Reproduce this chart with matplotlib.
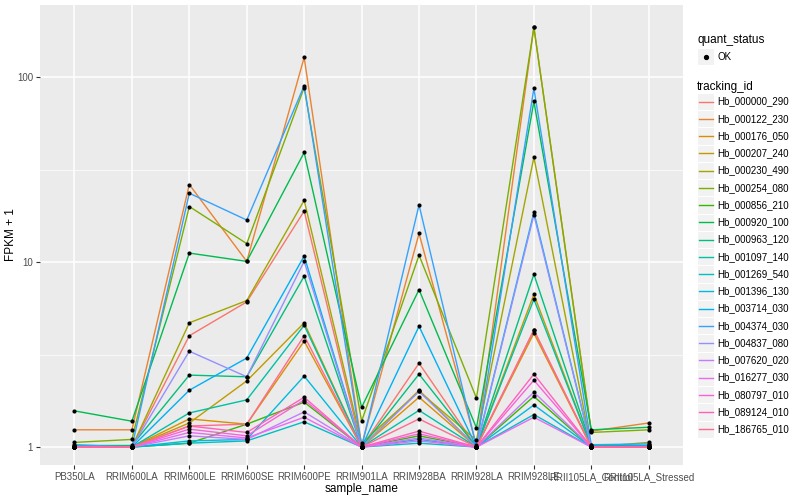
import numpy as np
import matplotlib
matplotlib.use("Agg")
import matplotlib.pyplot as plt
from matplotlib.patches import Rectangle
from matplotlib.lines import Line2D

plt.rcParams['font.family'] = ['Liberation Sans', 'DejaVu Sans']

samples = ["PB350LA", "RRIM600LA", "RRIM600LE", "RRIM600SE", "RRIM600PE", "RRIM901LA",
           "RRIM928BA", "RRIM928LA", "RRIM928LE", "RRII105LA_Control", "RRII105LA_Stressed"]

tracking_ids = ["Hb_000000_290", "Hb_000122_230", "Hb_000176_050", "Hb_000207_240",
                "Hb_000230_490", "Hb_000254_080", "Hb_000856_210", "Hb_000920_100",
                "Hb_000963_120", "Hb_001097_140", "Hb_001269_540", "Hb_001396_130",
                "Hb_003714_030", "Hb_004374_030", "Hb_004837_080", "Hb_007620_020",
                "Hb_016277_030", "Hb_080797_010", "Hb_089124_010", "Hb_186765_010"]

# ggplot hue palette for 20 levels
colors = ["#F8766D", "#EA8331", "#D89000", "#C09B00", "#A3A500", "#7CAE00", "#39B600",
          "#00BB4E", "#00BF7D", "#00C1A3", "#00BFC4", "#00BAE0", "#00B0F6", "#35A2FF",
          "#9590FF", "#C77CFF", "#E76BF3", "#FA62DB", "#FF62BC", "#FF6C91"]

# FPKM + 1 per tracking_id, in sample order
hb_000000_290 = [1.0, 1.0, 4.0, 6.1, 18.9, 1.0, 2.84, 1.0, 4.3, 1.0, 1.0]
hb_000122_230 = [1.24, 1.24, 26.3, 10.1, 128, 1.02, 14.3, 1.02, 187, 1.22, 1.35]
hb_000176_050 = [1.0, 1.0, 1.42, 1.33, 3.74, 1.0, 1.86, 1.0, 4.13, 1.0, 1.0]
hb_000207_240 = [1.0, 1.0, 1.35, 2.28, 4.7, 1.0, 2.03, 1.0, 6.7, 1.0, 1.0]
hb_000230_490 = [1.0, 1.0, 4.7, 6.2, 21.6, 1.05, 2.0, 1.09, 36.9, 1.0, 1.06]
hb_000254_080 = [1.06, 1.1, 20.0, 12.6, 88, 1.38, 10.9, 1.84, 186, 1.2, 1.24]
hb_000856_210 = [1.0, 1.0, 1.05, 1.33, 1.75, 1.0, 1.15, 1.0, 1.88, 1.0, 1.0]
hb_000920_100 = [1.57, 1.38, 11.2, 10.1, 39.2, 1.64, 7.1, 1.27, 74, 1.24, 1.28]
hb_000963_120 = [1.02, 1.02, 2.45, 2.4, 8.4, 1.0, 2.48, 1.0, 8.6, 1.02, 1.02]
hb_001097_140 = [1.0, 1.0, 1.53, 1.8, 4.56, 1.0, 1.58, 1.0, 6.3, 1.0, 1.0]
hb_001269_540 = [1.0, 1.0, 1.05, 1.08, 1.37, 1.0, 1.05, 1.0, 1.5, 1.0, 1.0]
hb_001396_130 = [1.0, 1.0, 1.08, 1.1, 2.42, 1.0, 1.1, 1.0, 1.69, 1.0, 1.0]
hb_003714_030 = [1.0, 1.0, 2.03, 3.03, 10.8, 1.0, 4.5, 1.0, 18.6, 1.0, 1.02]
hb_004374_030 = [1.03, 1.0, 23.6, 16.9, 90, 1.0, 20.4, 1.0, 87, 1.03, 1.04]
hb_004837_080 = [1.0, 1.0, 3.3, 2.4, 10.1, 1.0, 2.0, 1.0, 18.0, 1.0, 1.0]
hb_007620_020 = [1.0, 1.0, 1.15, 1.1, 1.55, 1.0, 1.12, 1.0, 1.98, 1.0, 1.0]
hb_016277_030 = [1.0, 1.0, 1.2, 1.12, 1.45, 1.0, 1.08, 1.0, 1.45, 1.0, 1.0]
hb_080797_010 = [1.0, 1.0, 1.25, 1.15, 1.8, 1.0, 1.18, 1.0, 2.3, 1.0, 1.0]
hb_089124_010 = [1.0, 1.0, 1.3, 1.2, 1.86, 1.0, 1.22, 1.0, 2.48, 1.0, 1.0]
hb_186765_010 = [1.0, 1.0, 1.3, 1.33, 4.0, 1.0, 1.42, 1.0, 4.29, 1.0, 1.0]

series = [hb_000000_290, hb_000122_230, hb_000176_050, hb_000207_240, hb_000230_490,
          hb_000254_080, hb_000856_210, hb_000920_100, hb_000963_120, hb_001097_140,
          hb_001269_540, hb_001396_130, hb_003714_030, hb_004374_030, hb_004837_080,
          hb_007620_020, hb_016277_030, hb_080797_010, hb_089124_010, hb_186765_010]

fig = plt.figure(figsize=(8, 5), dpi=100)
ax = fig.add_axes([0.05, 0.07, 0.804, 0.92])
ax.set_facecolor("#EBEBEB")

x = np.arange(len(samples))
for vals, col in zip(series, colors):
    ax.plot(x, vals, color=col, lw=1.0, zorder=3)
for vals in series:
    ax.scatter(x, vals, color="black", s=9, zorder=4, linewidths=0)

ax.set_yscale("log")
ax.set_ylim(0.8, 246)
ax.set_xlim(-0.6, len(samples) - 0.4)
ax.set_yticks([1, 10, 100])
ax.set_yticklabels(["1", "10", "100"])
ax.yaxis.set_minor_locator(matplotlib.ticker.FixedLocator([10**0.5, 10**1.5]))
ax.yaxis.set_minor_formatter(matplotlib.ticker.NullFormatter())
ax.set_xticks(x)
ax.set_xticklabels(samples)
ax.grid(which="major", color="white", lw=1.1, zorder=0)
ax.grid(which="minor", axis="y", color="white", lw=0.5, zorder=0)
ax.set_axisbelow(True)
for s in ax.spines.values():
    s.set_visible(False)
ax.tick_params(axis="both", which="major", length=3, color="#333333",
               labelsize=7, labelcolor="#4D4D4D", pad=2)
ax.tick_params(axis="y", which="minor", length=0)
ax.set_xlabel("sample_name", fontsize=8.5, labelpad=1)
ax.set_ylabel("FPKM + 1", fontsize=8.5, labelpad=0)

# legends drawn in figure pixels
W, H = 800.0, 500.0
def fx(px):
    return px / W
def fy(py):
    return 1 - py / H

fig.text(fx(697), fy(40), "quant_status", fontsize=8.5, va="center", ha="left")
fig.patches.append(Rectangle((fx(697), fy(65)), fx(17), 17 / H, transform=fig.transFigure,
                             facecolor="#F2F2F2", edgecolor="white", lw=0.8))
fig.lines.append(Line2D([fx(705.5)], [fy(56.5)], marker="o", ms=2.8, color="black",
                        transform=fig.transFigure))
fig.text(fx(717), fy(56.5), "OK", fontsize=7, va="center", ha="left")

fig.text(fx(697), fy(87), "tracking_id", fontsize=8.5, va="center", ha="left")
for i, (tid, col) in enumerate(zip(tracking_ids, colors)):
    yc = 101.5 + i * 17.25
    fig.patches.append(Rectangle((fx(697), fy(yc + 8.6)), fx(17), 17.25 / H,
                                 transform=fig.transFigure, facecolor="#F2F2F2",
                                 edgecolor="white", lw=0.8))
    fig.lines.append(Line2D([fx(698.5), fx(712.5)], [fy(yc), fy(yc)], color=col, lw=1.0,
                            transform=fig.transFigure))
    fig.text(fx(717), fy(yc), tid, fontsize=7, va="center", ha="left")

fig.savefig("out.png", dpi=100)
